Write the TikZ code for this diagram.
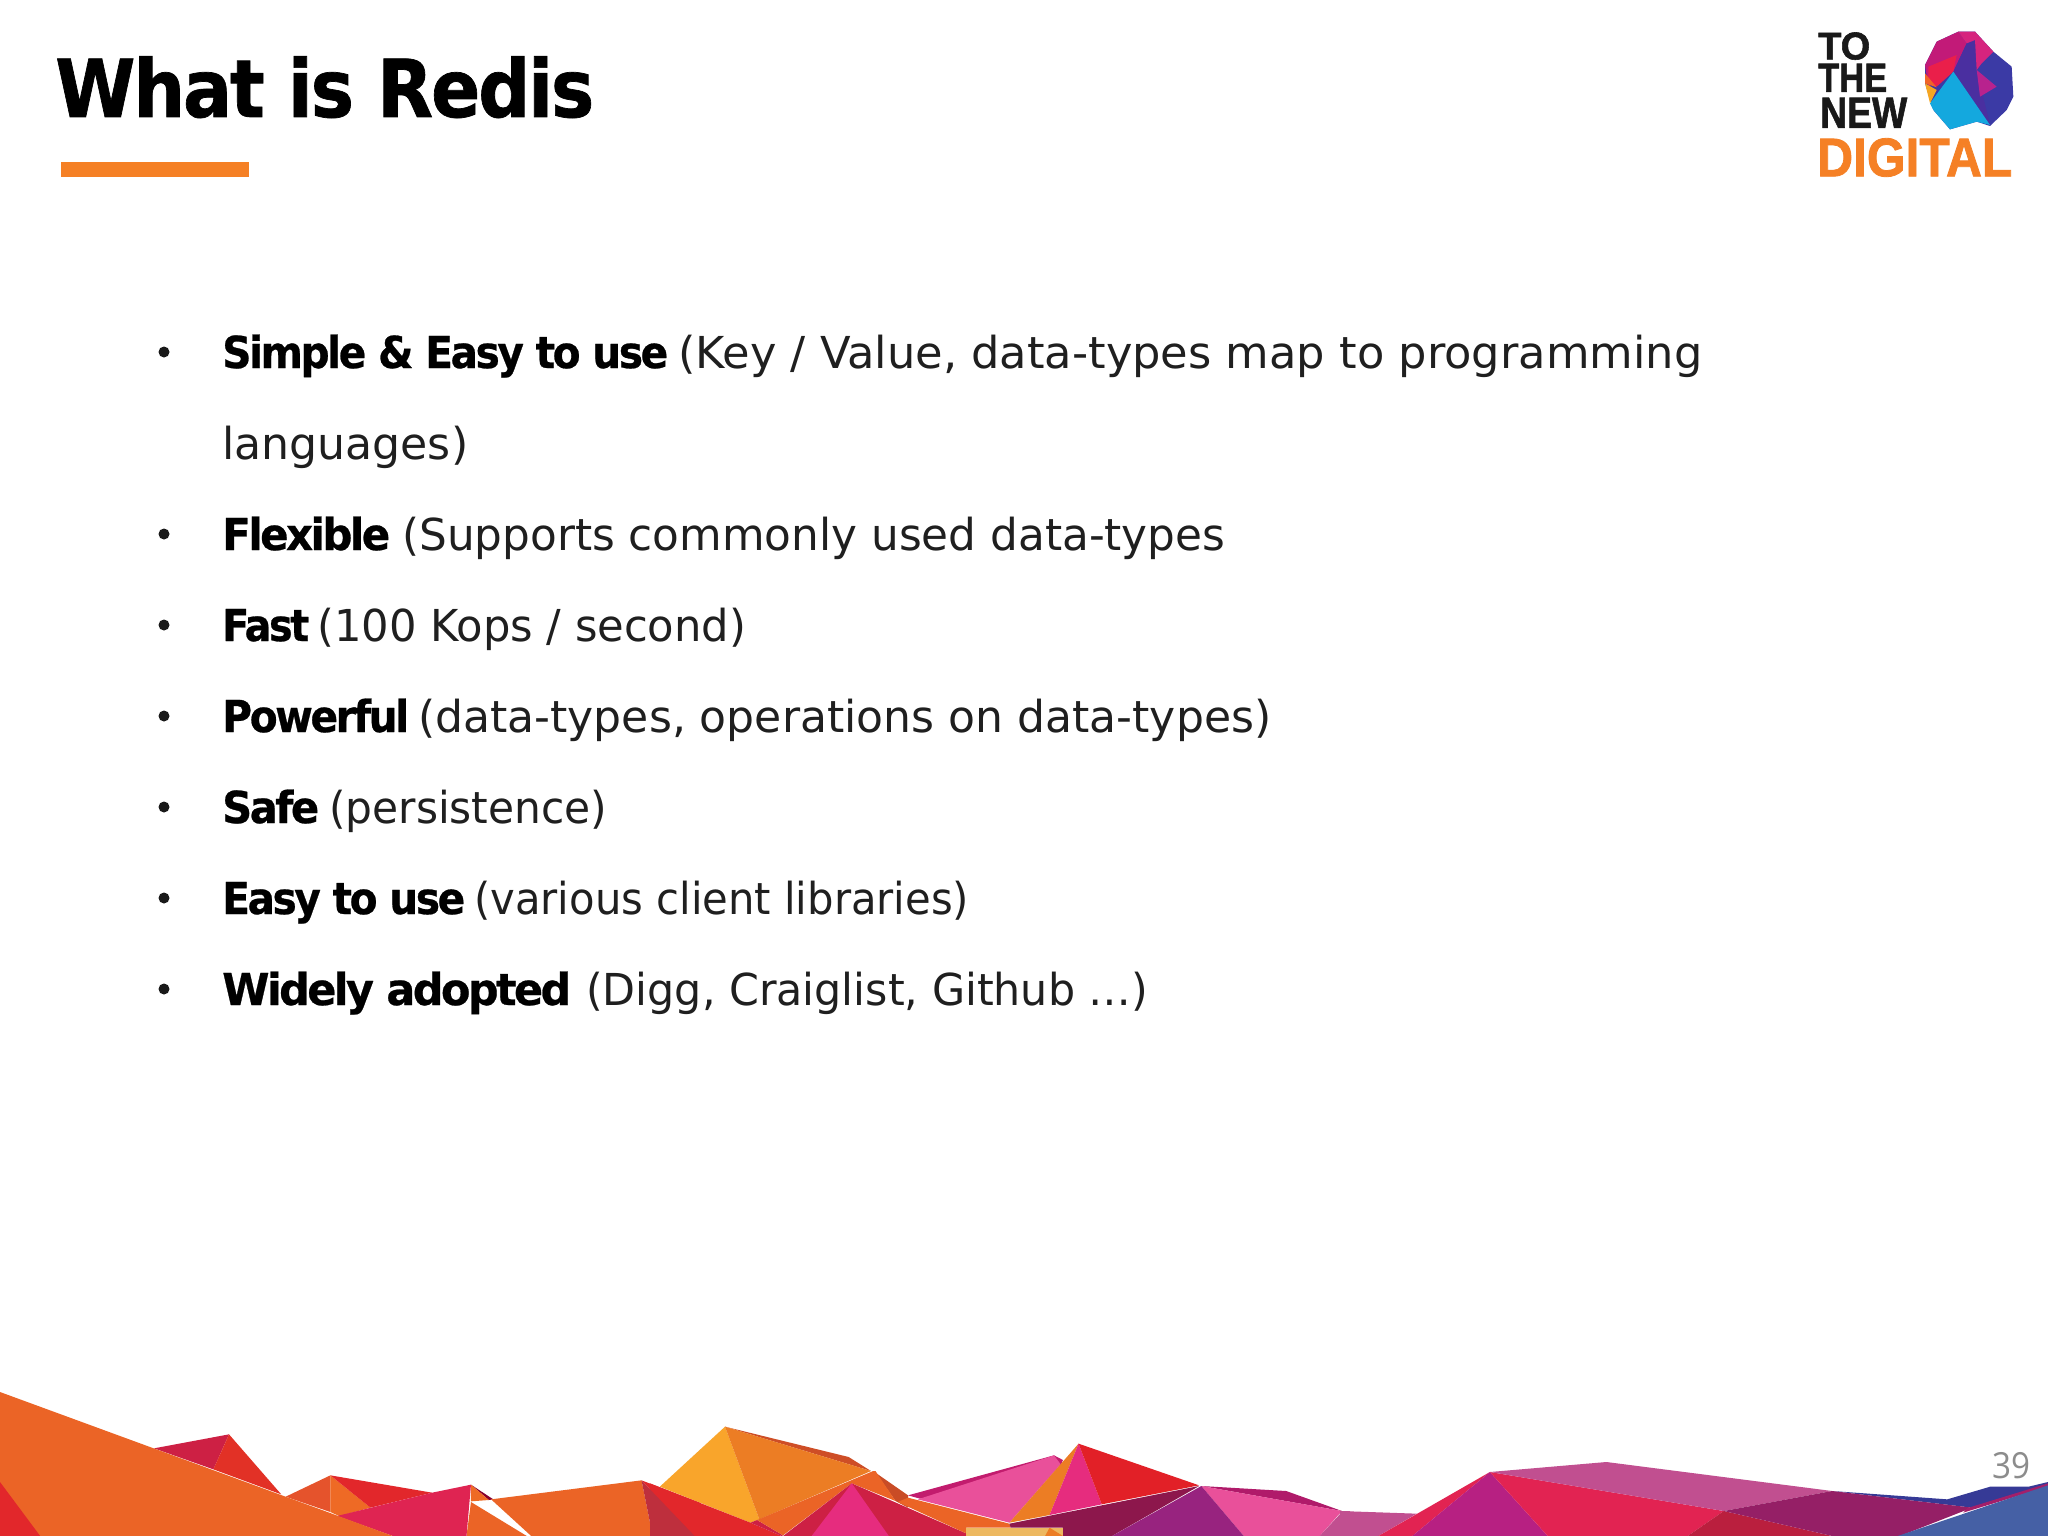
\documentclass[tikz,border=0pt]{standalone}
\usepackage{fontspec}
\setmainfont{DejaVu Sans}
\newfontfamily\heavyfont[LetterSpace=-6,FakeBold=0.6]{DejaVu Sans Bold}
\newfontfamily\titlefont[LetterSpace=-3,FakeBold=0.9]{DejaVu Sans Bold}
\newfontfamily\logofont[FakeBold=1.5]{Liberation Sans Bold}
\newfontfamily\pagefont{Open Sans}
\newcommand{\fitw}[2]{\resizebox{#1pt}{\height}{#2}}
\newcommand{\fitwh}[3]{\resizebox{#1pt}{#2pt}{#3}}
\tikzset{
  x=1pt,y=-1pt,
  bodytext/.style={anchor=base west,inner sep=0pt,font=\fontsize{44}{44}\selectfont,text=black!88},
  boldtext/.style={anchor=base west,inner sep=0pt,font=\heavyfont\fontsize{44}{44}\selectfont,text=black},
  bulletdot/.style={circle,fill=black!90,inner sep=0pt,minimum size=12pt},
  logotext/.style={anchor=south west,inner sep=0pt,font=\logofont\fontsize{40}{40}\selectfont},
  zoneA/.style={shift={(0,1376)},xscale=0.44643,yscale=0.33333},
  zoneB/.style={shift={(650,1376)},xscale=0.44643,yscale=0.33333},
  zoneC/.style={shift={(1340,1376)},xscale=0.45153,yscale=0.33333},
  zoneL/.style={shift={(1790,10)},scale=0.33333},
}
\definecolor{org}{HTML}{EB6426}
\definecolor{org2}{HTML}{EC7D24}
\definecolor{redd}{HTML}{E2272B}
\definecolor{rose}{HTML}{DF2452}
\definecolor{crim}{HTML}{CD2044}
\definecolor{pnk}{HTML}{E9509A}
\definecolor{hot}{HTML}{E62C7E}
\definecolor{mauve}{HTML}{C14F90}
\definecolor{bar}{HTML}{F58025}
\begin{document}
\begin{tikzpicture}
\useasboundingbox (0,0) rectangle (2048,1536);
\fill[white] (0,0) rectangle (2048,1536);

% title
\node[anchor=base west,inner sep=0pt,font=\titlefont\fontsize{80}{80}\selectfont] (title) at (55,117) {\fitw{539}{What is Redis}};
\fill[bar] (61,162) rectangle (249,177);

% page number
\node[anchor=base west,inner sep=0pt,font=\pagefont\fontsize{36}{36}\selectfont,text=black!45] (page) at (1992,1478) {\fitw{38}{39}};

% bullets
\foreach \n/\yy in {a/368,c/550,d/641,e/732,f/823,g/914,h/1005}
  \node[bulletdot,minimum size=11pt] (dot\n) at (164,\yy-16) {};

\node[boldtext] (a1) at (222,368) {\fitw{446}{Simple \& Easy to use}};
\node[bodytext] (a2) at (678,368) {\fitw{1024}{(Key / Value, data-types map to programming}};
\node[bodytext] (b1) at (222,459) {\fitw{246}{languages)}};
\node[boldtext] (c1) at (222,550) {\fitw{168}{Flexible}};
\node[bodytext] (c2) at (402,550) {\fitw{823}{(Supports commonly used data-types}};
\node[boldtext] (d1) at (222,641) {\fitw{87}{Fast}};
\node[bodytext] (d2) at (317,641) {\fitw{429}{(100 Kops / second)}};
\node[boldtext] (e1) at (222,732) {\fitw{187}{Powerful}};
\node[bodytext] (e2) at (418,732) {\fitw{853}{(data-types, operations on data-types)}};
\node[boldtext] (f1) at (222,823) {\fitw{97}{Safe}};
\node[bodytext] (f2) at (329,823) {\fitw{278}{(persistence)}};
\node[boldtext] (g1) at (222,914) {\fitw{243}{Easy to use}};
\node[bodytext] (g2) at (474,914) {\fitw{495}{(various client libraries)}};
\node[boldtext] (h1) at (222,1005) {\fitw{349}{Widely adopted}};
\node[bodytext] (h2) at (586,1005) {\fitw{562}{(Digg, Craiglist, Github \dots)}};

% logo
\node[logotext,text=black!90] (lTO) at (1818,60) {\fitwh{52}{27}{TO}};
\node[logotext,text=black!90] (lTHE) at (1818,92) {\fitwh{69}{28}{THE}};
\node[logotext,text=black!90] (lNEW) at (1820,128) {\fitwh{87}{30}{NEW}};
\node[logotext,text=bar] (lDIG) at (1817,177) {\fitwh{195}{38}{DIGITAL}};
\begin{scope}[zoneL]
  \fill[fill={rgb,255:red,59;green,58;blue,165}] (405,165)--(440,95)--(505,65)--(555,65)--(610,125)--(665,170)--(670,260)--(650,300)--(600,348)--(560,335)--(480,358)--(430,300)--(405,220)--cycle;
  \fill[fill={rgb,255:red,194;green,26;blue,120}] (405,165)--(440,95)--(505,65)--(530,100)--(490,185)--(415,230)--cycle;
  \fill[fill={rgb,255:red,234;green,31;blue,74}] (415,170)--(500,135)--(490,185)--(440,230)--(415,215)--cycle;
  \fill[fill={rgb,255:red,74;green,47;blue,160}] (555,65)--(560,180)--(600,345)--(490,185)--(530,100)--cycle;
  \fill[fill={rgb,255:red,214;green,36;blue,126}] (505,65)--(555,65)--(610,125)--(575,160)--(560,180)--(555,90)--(530,100)--cycle;
  \fill[fill={rgb,255:red,184;green,34;blue,142}] (560,180)--(620,230)--(570,260)--cycle;
  \fill[fill={rgb,255:red,20;green,168;blue,222}] (490,185)--(600,345)--(560,335)--(480,358)--(430,300)--(420,280)--cycle;
  \fill[fill={rgb,255:red,245;green,166;blue,35}] (405,220)--(440,240)--(420,280)--cycle;
  \fill[fill={rgb,255:red,240;green,100;blue,40}] (405,190)--(440,232)--(405,220)--cycle;
\end{scope}

% mountains, left part
\begin{scope}[zoneA]
  \fill[crim] (345,217)--(513,175)--(478,280)--cycle;
  \fill[fill={rgb,255:red,226;green,49;blue,38}] (513,175)--(630,355)--(478,280)--cycle;
  \fill[fill={rgb,255:red,229;green,83;blue,44}] (640,362)--(740,298)--(740,408)--cycle;
  \fill[fill={rgb,255:red,238;green,106;blue,37}] (740,298)--(830,395)--(760,420)--(740,408)--cycle;
  \fill[redd] (740,298)--(968,350)--(830,395)--cycle;
  \fill[purple!70!black] (1055,326)--(1105,370)--(1095,372)--cycle;
  \fill[fill={rgb,255:red,238;green,106;blue,37}] (1055,326)--(1095,372)--(1055,376)--cycle;
  \fill[org] (1055,378)--(1180,480)--(1045,480)--cycle;
  \fill[rose] (755,420)--(968,350)--(1055,326)--(1045,480)--(880,480)--cycle;
  \fill[org] (1100,370)--(1437,313)--(1462,480)--(1190,480)--cycle;
  \fill[redd] (1437,313)--(1568,380)--(1568,480)--(1555,480)--cycle;
  \fill[fill={rgb,255:red,190;green,47;blue,61}] (1437,313)--(1555,480)--(1462,480)--cycle;
  \fill[org] (0,48)--(880,480)--(0,480)--cycle;
  \fill[redd] (0,318)--(90,480)--(0,480)--cycle;
\end{scope}

% mountains, middle part
\begin{scope}[zoneB]
  \fill[fill={rgb,255:red,249;green,165;blue,43}] (168,152)--(245,430)--(225,440)--(22,332)--cycle;
  \fill[fill={rgb,255:red,206;green,78;blue,38}] (168,152)--(445,243)--(495,285)--cycle;
  \fill[org2] (168,152)--(495,285)--(245,430)--cycle;
  \fill[redd] (0,322)--(225,440)--(295,480)--(0,480)--cycle;
  \fill[fill={rgb,255:red,190;green,47;blue,61}] (0,340)--(100,480)--(0,480)--cycle;
  \fill[crim] (225,440)--(240,432)--(298,478)--(295,480)--cycle;
  \fill[fill={rgb,255:red,201;green,76;blue,38}] (505,290)--(578,358)--(578,395)--(550,375)--cycle;
  \fill[org] (240,432)--(500,285)--(505,285)--(550,375)--(452,322)--(298,478)--cycle;
  \fill[crim] (452,322)--(708,472)--(708,480)--(298,480)--cycle;
  \fill[hot] (452,322)--(535,480)--(362,480)--cycle;
  \fill[org] (578,365)--(805,443)--(808,455)--(708,455)--(708,472)--(555,378)--cycle;
  \fill[fill={rgb,255:red,194;green,28;blue,110}] (578,358)--(905,238)--(925,252)--(920,268)--(605,368)--cycle;
  \fill[pnk] (600,370)--(905,238)--(920,265)--(805,440)--cycle;
  \fill[org2] (960,203)--(895,417)--(805,440)--cycle;
  \fill[hot] (960,203)--(1012,385)--(895,417)--cycle;
  \fill[fill={rgb,255:red,226;green,32;blue,39}] (960,203)--(1230,328)--(1012,385)--cycle;
  \fill[fill={rgb,255:red,141;green,23;blue,76}] (805,443)--(1230,330)--(1035,480)--(925,480)--(925,455)--(808,455)--cycle;
  \fill[fill={rgb,255:red,176;green,26;blue,106}] (1235,330)--(1425,345)--(1550,405)--cycle;
  \fill[pnk] (1235,330)--(1550,405)--(1500,480)--(1330,480)--cycle;
  \fill[fill={rgb,255:red,152;green,35;blue,127}] (1235,330)--(1330,480)--(1035,480)--cycle;
  \fill[mauve] (1552,405)--(1568,405)--(1568,480)--(1500,480)--cycle;
  \fill[fill={rgb,255:red,237;green,184;blue,96}] (708,455)--(925,455)--(925,480)--(708,480)--cycle;
  \fill[org2] (895,455)--(925,480)--(885,480)--cycle;
\end{scope}

% mountains, right part
\begin{scope}[zoneC]
  \fill[mauve] (0,405)--(170,413)--(85,480)--(0,480)--cycle;
  \fill[fill={rgb,255:red,226;green,35;blue,82}] (332,288)--(160,480)--(85,480)--cycle;
  \fill[fill={rgb,255:red,183;green,32;blue,130}] (332,288)--(460,480)--(160,480)--cycle;
  \fill[fill={rgb,255:red,226;green,35;blue,82}] (332,288)--(850,405)--(770,480)--(460,480)--cycle;
  \fill[mauve] (332,288)--(590,258)--(1090,345)--(850,405)--cycle;
  \fill[fill={rgb,255:red,186;green,31;blue,62}] (850,405)--(1090,480)--(770,480)--cycle;
  \fill[fill={rgb,255:red,54;green,58;blue,150}] (1090,345)--(1345,370)--(1440,332)--(1525,332)--(1568,318)--(1568,325)--(1400,395)--cycle;
  \fill[fill={rgb,255:red,149;green,31;blue,102}] (850,405)--(1090,345)--(1400,395)--(1240,480)--(1090,480)--cycle;
  \fill[fill={rgb,255:red,163;green,31;blue,106}] (1390,396)--(1568,322)--(1568,332)--(1380,410)--cycle;
  \fill[fill={rgb,255:red,69;green,96;blue,165}] (1568,328)--(1568,480)--(1235,480)--cycle;
\end{scope}
\end{tikzpicture}
\end{document}
